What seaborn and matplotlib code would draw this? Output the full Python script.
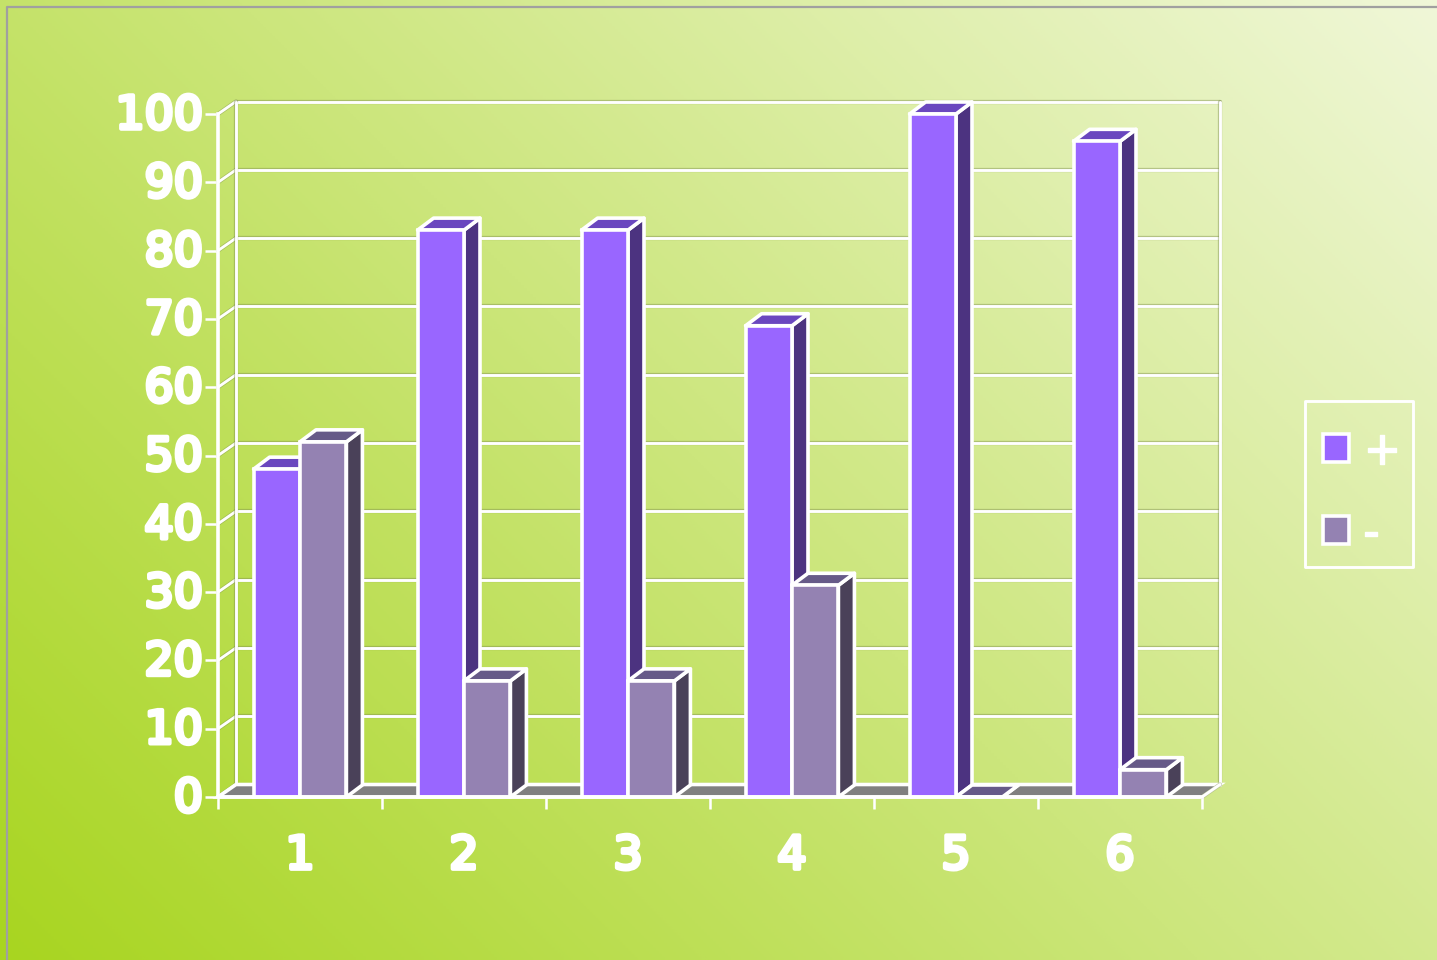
import numpy as np
import pandas as pd
import matplotlib
matplotlib.use("Agg")
import matplotlib.pyplot as plt
import matplotlib.patheffects as pe
from matplotlib.colors import LinearSegmentedColormap
from matplotlib.patches import Polygon, Rectangle
from matplotlib.transforms import ScaledTranslation
import seaborn as sns

categories = ["1", "2", "3", "4", "5", "6"]
plus_values = [48, 83, 83, 69, 100, 96]
minus_values = [52, 17, 17, 31, 0, 4]
series_names = ["+", "-"]
y_ticks = [0, 10, 20, 30, 40, 50, 60, 70, 80, 90, 100]

W, H = 1437, 960
FRONT = {"+": "#9966FF", "-": "#9482B2"}
SIDE = {"+": "#4C3380", "-": "#4A4159"}
TOP = {"+": "#6A47BF", "-": "#665A88"}
WHITE = "white"
LW = 2.6
FS = 33

sns.set_theme(style="white")
plt.rcParams["font.family"] = ["DejaVu Sans"]

fig = plt.figure(figsize=(W / 100, H / 100), dpi=100)

# background gradient
bg = fig.add_axes([0, 0, 1, 1], zorder=0)
gx, gy = np.meshgrid(np.linspace(0, 1, 480), np.linspace(0, 1, 320))
cmap = LinearSegmentedColormap.from_list("bg", ["#A8D520", "#F0F7D8"])
bg.imshow(0.6 * gx + 0.4 * gy, origin="lower", extent=(0, W, 0, H), cmap=cmap,
          vmin=0, vmax=1, aspect="auto")
bg.plot([6.5, 6.5, W], [0, H - 6.5, H - 6.5], color="#A0A0A0", lw=1.6)
# legend box
bg.add_patch(Rectangle((1304.5, H - 567), 108, 166, facecolor="none", edgecolor=WHITE,
                       lw=LW * 0.8, joinstyle="round"))
bg.set_xlim(0, W)
bg.set_ylim(0, H)
bg.axis("off")

# main axes = front plane of the pseudo 3D box
x0, x1, y0, y1 = 218, 1202, 797, 114
ax = fig.add_axes([x0 / W, (H - y0) / H, (x1 - x0) / W, (y0 - y1) / H], zorder=1)
ax.patch.set_alpha(0)

df = pd.DataFrame({
    "cat": categories * 2,
    "value": plus_values + minus_values,
    "sign": [series_names[0]] * len(categories) + [series_names[1]] * len(categories),
})
sns.barplot(data=df, x="cat", y="value", hue="sign", order=categories,
            hue_order=series_names, palette=FRONT, width=0.566, gap=0, saturation=1,
            edgecolor=WHITE, linewidth=LW, ax=ax, legend=True, errorbar=None)
ax.set_xlim(-0.5, 5.5)
ax.set_ylim(0, 100)
ax.set_xlabel("")
ax.set_ylabel("")

px_x = (x1 - x0) / 6
px_y = (y0 - y1) / 100
DX, DY = 18 / px_x, 12.5 / px_y          # depth of the box
BDX, BDY = 16 / px_x, 12 / px_y          # depth of the bars
shadow = [pe.Stroke(linewidth=LW * 0.8 + 1.0, foreground="#7F8F50", alpha=0.45), pe.Normal()]


def line(xs, ys, z=2):
    ax.plot(xs, ys, color=WHITE, lw=LW * 0.8, clip_on=False, zorder=z,
            solid_capstyle="round", path_effects=shadow)


left, right = -0.5, 5.5
for v in y_ticks:
    line([left + DX, right + DX], [v + DY, v + DY])
    line([left, left + DX], [v, v + DY])
line([left + DX, left + DX], [DY, 100 + DY])
line([right + DX, right + DX], [DY, 100 + DY])

# floor
ax.add_patch(Polygon([(left, 0), (left + DX, DY), (right + DX, DY), (right, 0)],
                     closed=True, facecolor="#808080", edgecolor=WHITE, lw=LW,
                     clip_on=False, zorder=3))
line([right, right + DX], [0, DY], z=3)

# sides and tops of the bars, painted from left to right
bars = []
for container, name in zip(ax.containers, series_names):
    bars += [(b, name) for b in container]
bars.sort(key=lambda t: t[0].get_x())
for i, (b, name) in enumerate(bars):
    xa, xb, h = b.get_x(), b.get_x() + b.get_width(), b.get_height()
    z = 10 + i
    kw = dict(closed=True, edgecolor=WHITE, lw=LW, clip_on=False, joinstyle="round")
    ax.add_patch(Polygon([(xb, 0), (xb + BDX, BDY), (xb + BDX, h + BDY), (xb, h)],
                         facecolor=SIDE[name], zorder=z, **kw))
    ax.add_patch(Polygon([(xa, h), (xa + BDX, h + BDY), (xb + BDX, h + BDY), (xb, h)],
                         facecolor=TOP[name], zorder=z + 0.1, **kw))
    b.set_zorder(z + 0.2)
    b.set_clip_on(False)

# axes, ticks and labels
sns.despine(ax=ax, top=True, right=True)
for s in ("left", "bottom"):
    ax.spines[s].set_color(WHITE)
    ax.spines[s].set_linewidth(LW)
    ax.spines[s].set_zorder(60)
ax.set_yticks(y_ticks, [str(v) for v in y_ticks])
ax.set_xticks(np.arange(len(categories) + 1) - 0.5, [""] * (len(categories) + 1))
ax.set_xticks(np.arange(len(categories)), categories, minor=True)
ax.tick_params(axis="y", left=True, length=9.4, width=LW * 0.7, color=WHITE,
               labelcolor=WHITE, labelsize=FS, pad=1.5)
ax.tick_params(axis="x", which="major", bottom=True, length=8.6, width=LW * 0.7, color=WHITE)
ax.tick_params(axis="x", which="minor", bottom=False, length=0, labelcolor=WHITE,
               labelsize=FS, pad=26.5)
bold = [pe.withStroke(linewidth=3.0, foreground=WHITE)]
for t in ax.get_yticklabels() + ax.get_xticklabels(minor=True):
    t.set_path_effects(bold)
lift = ScaledTranslation(0, 2 / 72, fig.dpi_scale_trans)
for t in ax.get_yticklabels():
    t.set_verticalalignment("center_baseline")
    t.set_transform(t.get_transform() + lift)

# legend
sns.move_legend(ax, loc="upper left", bbox_to_anchor=(1323 / W, (H - 429) / H),
                bbox_transform=fig.transFigure, title=None, frameon=False, fontsize=FS,
                handlelength=0.57, handleheight=0.57, handletextpad=0.3,
                labelspacing=0.82, borderpad=0, borderaxespad=0)
leg = ax.get_legend()
leg.set_zorder(70)
for t in leg.get_texts():
    t.set_color(WHITE)
    t.set_path_effects([pe.withStroke(linewidth=1.0, foreground=WHITE)])

fig.savefig("out.png", dpi=100)
